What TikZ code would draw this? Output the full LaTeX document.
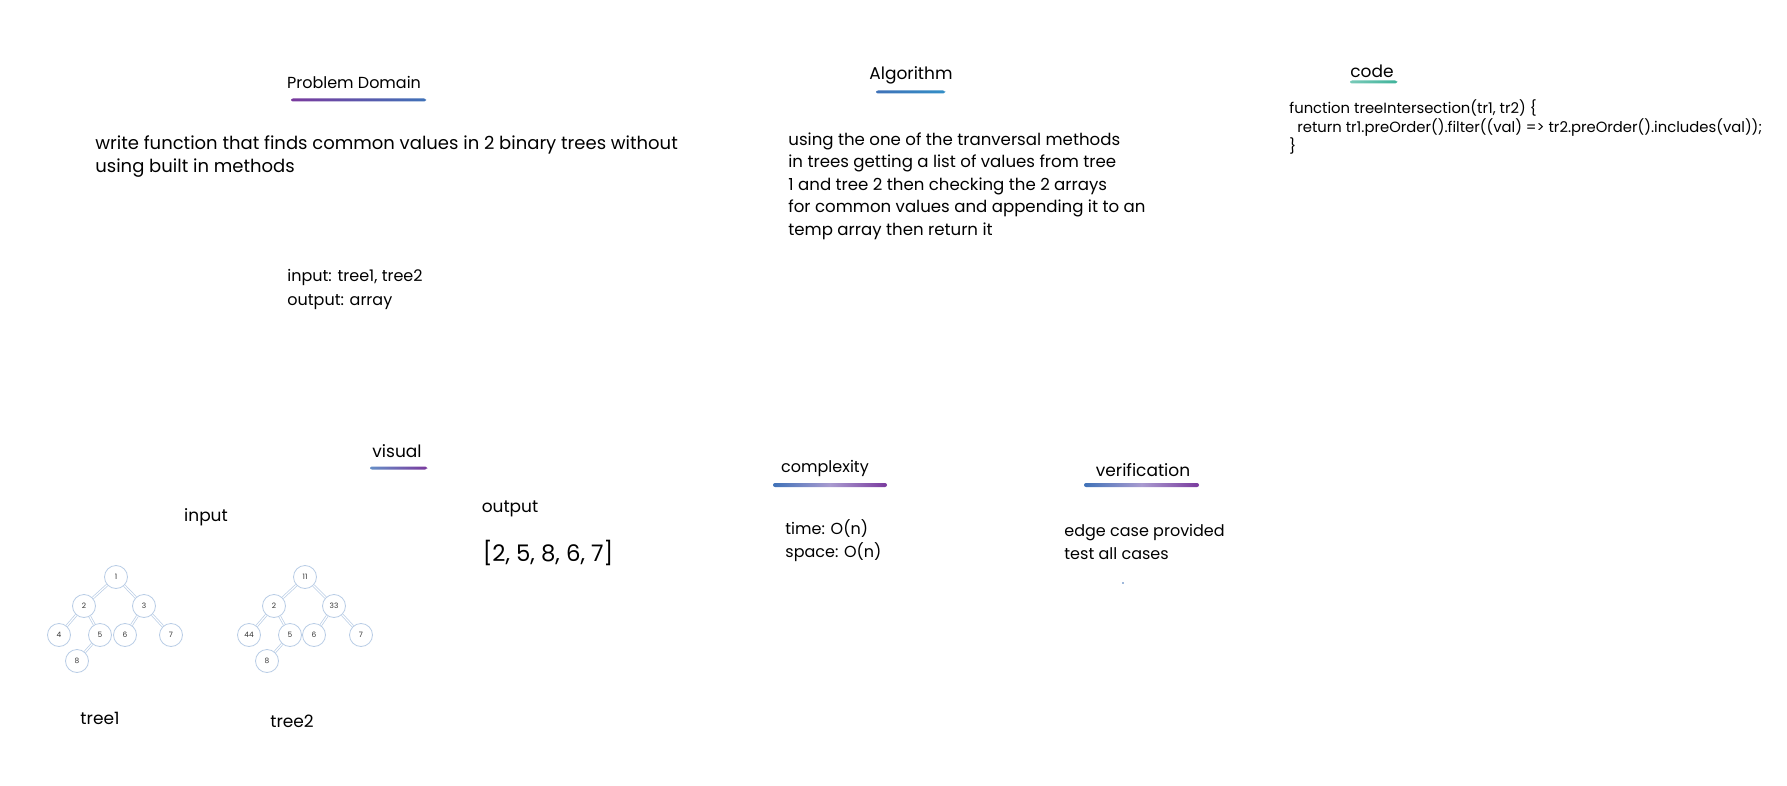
\documentclass[tikz,border=0pt]{standalone}
\usepackage{fontspec}
\setmainfont{Poppins}
\usetikzlibrary{positioning}
\definecolor{treeblue}{HTML}{B9CDE6}
\definecolor{inkpurple}{HTML}{7A3A9E}
\definecolor{inkblue}{HTML}{3F72B8}
\definecolor{inklav}{HTML}{A99BD0}
\definecolor{inkteal}{HTML}{3FB39A}
\tikzset{
  heading/.style={font=\fontsize{8.5}{10}\selectfont, inner sep=0pt},
  body/.style={font=\fontsize{8}{11.5}\selectfont, align=left, anchor=north west, inner sep=0pt},
  codetext/.style={font=\fontsize{7.4}{9.5}\selectfont, align=left, anchor=north west, inner sep=0pt},
  tnode/.style={draw=treeblue, circle, minimum size=11.5pt, inner sep=0pt, font=\fontsize{3.7}{4}\selectfont, text=black!80, fill=white},
  tedge/.style={draw=treeblue, double=white, double distance=0.6pt, line width=0.35pt}
}

\begin{document}
\begin{tikzpicture}[x=0.5pt,y=-0.5pt]
  \fill[white] (0,0) rectangle (1787,786);
  \useasboundingbox (0,0) rectangle (1787,786);

  % problem domain
  \node[heading, font=\fontsize{8}{10}\selectfont] (pd) at (354,82) {Problem Domain};
  \shade[left color=inkpurple, right color=inkblue, rounded corners=1pt] (291,98.5) rectangle (426,101.5);
  \node[body, font=\fontsize{9}{11.5}\selectfont] (pdtext) at (95,135) {write function that finds common values in 2 binary trees without\\using built in methods};
  \node[body, font=\fontsize{8}{12}\selectfont] (io) at (287,269) {input: tree1, tree2\\output: array};

  % algorithm
  \node[heading] (alg) at (911,75) {Algorithm};
  \shade[left color=inkblue, right color=inkblue!80!cyan, rounded corners=1pt] (876,90.5) rectangle (945,93.5);
  \node[body, font=\fontsize{8.3}{11.3}\selectfont] (algtext) at (788,132) {using the one of the tranversal methods\\in trees getting a list of values from tree\\1 and tree 2 then checking the 2 arrays\\for common values and appending it to an\\temp array then return it};

  % code
  \node[heading] (code) at (1372,71) {code};
  \shade[left color=inkteal!70, right color=inkteal, rounded corners=1pt] (1350,80.5) rectangle (1397,83.5);
  \node[codetext] (codetxt) at (1289,99) {function treeIntersection(tr1, tr2) \{\\
\ \ return tr1.preOrder().filter((val) => tr2.preOrder().includes(val));\\
\}};

  % visual
  \node[heading] (vis) at (397,451) {visual};
  \shade[left color=inkblue!80, right color=inkpurple, rounded corners=1pt] (370,466.5) rectangle (427,469.5);
  \node[heading] (inp) at (206,517) {input};
  \node[heading] (outp) at (510,509) {output};
  \node[font=\fontsize{11.4}{12}\selectfont, inner sep=0pt] (res) at (548,553) {[2, 5, 8, 6, 7]};

  % tree 1
  \node[tnode] (a1) at (116,577) {1};
  \node[tnode] (a2) at (84,606) {2};
  \node[tnode] (a3) at (144,606) {3};
  \node[tnode] (a4) at (59,635) {4};
  \node[tnode] (a5) at (100,635) {5};
  \node[tnode] (a6) at (125,635) {6};
  \node[tnode] (a7) at (171,635) {7};
  \node[tnode] (a8) at (77,661) {8};
  \draw[tedge] (a1) -- (a2);
  \draw[tedge] (a1) -- (a3);
  \draw[tedge] (a2) -- (a4);
  \draw[tedge] (a2) -- (a5);
  \draw[tedge] (a3) -- (a6);
  \draw[tedge] (a3) -- (a7);
  \draw[tedge] (a5) -- (a8);
  \node[heading] (t1) at (100,718) {tree1};

  % tree 2
  \node[tnode] (b1) at (305,577) {11};
  \node[tnode] (b2) at (274,606) {2};
  \node[tnode] (b3) at (334,606) {33};
  \node[tnode] (b4) at (249,635) {44};
  \node[tnode] (b5) at (290,635) {5};
  \node[tnode] (b6) at (314,635) {6};
  \node[tnode] (b7) at (361,635) {7};
  \node[tnode] (b8) at (267,661) {8};
  \draw[tedge] (b1) -- (b2);
  \draw[tedge] (b1) -- (b3);
  \draw[tedge] (b2) -- (b4);
  \draw[tedge] (b2) -- (b5);
  \draw[tedge] (b3) -- (b6);
  \draw[tedge] (b3) -- (b7);
  \draw[tedge] (b5) -- (b8);
  \node[heading] (t2) at (292,721) {tree2};

  % complexity
  \node[heading, font=\fontsize{8}{10}\selectfont] (cx) at (825,468) {complexity};
  \shade[left color=inkblue, right color=inkpurple, middle color=inklav, rounded corners=1pt] (773,483) rectangle (887,487);
  \node[body] (cxtext) at (785,519) {time: O(n)\\space: O(n)};

  % verification
  \node[heading] (ver) at (1143,470) {verification};
  \shade[left color=inkblue, right color=inkpurple, middle color=inklav, rounded corners=1pt] (1084,483) rectangle (1199,487);
  \node[body] (vertext) at (1064,524) {edge case provided\\test all cases};
  \fill[inkblue] (1123,583) circle (0.8);
\end{tikzpicture}
\end{document}
